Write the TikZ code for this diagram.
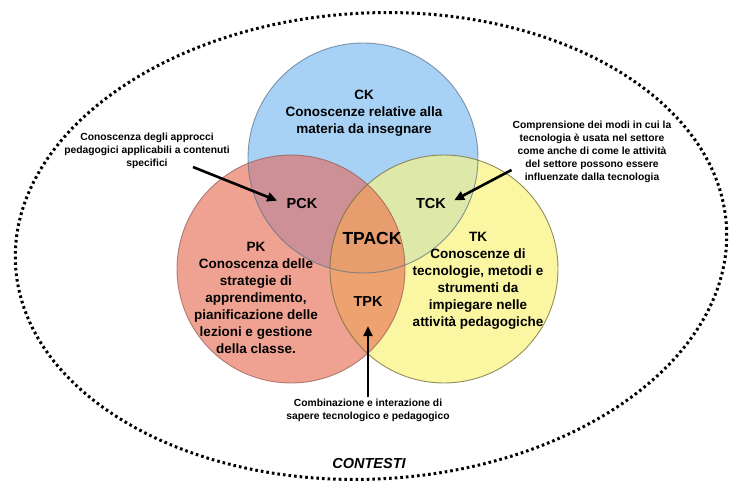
\documentclass[tikz,border=0pt]{standalone}
\usepackage{fontspec}
\setmainfont{Liberation Sans}
\usetikzlibrary{arrows.meta}

\definecolor{ckblue}{RGB}{168,210,245}
\definecolor{pkred}{RGB}{240,162,146}
\definecolor{tkyellow}{RGB}{250,246,162}
\definecolor{pckmauve}{RGB}{204,144,150}
\definecolor{tckgreen}{RGB}{222,232,168}
\definecolor{tpkorange}{RGB}{237,162,112}
\definecolor{tpackorange}{RGB}{231,157,110}
\definecolor{ckrim}{RGB}{95,118,140}
\definecolor{pkrim}{RGB}{150,96,86}
\definecolor{tkrim}{RGB}{110,105,55}

\tikzset{
    body/.style={font=\bfseries\fontsize{13.5}{17}\selectfont, align=center, inner sep=1pt},
    lbl/.style={font=\bfseries\fontsize{14.5}{17}\selectfont, inner sep=1pt},
    note/.style={font=\bfseries\fontsize{10.3}{13}\selectfont, align=center, inner sep=1pt},
    arr/.style={-{Triangle[length=10pt,width=9pt]}, line width=2.6pt},
    rim/.style={line width=0.9pt, draw opacity=0.75},
    dotline/.style={line width=3pt, dash pattern=on 2.6pt off 3pt}
}

\begin{document}
\begin{tikzpicture}[x=1pt, y=-1pt]
    \useasboundingbox (0,0) rectangle (730,483);
    \coordinate (cc) at (363,158);
    \coordinate (pc) at (291,269);
    \coordinate (tc) at (444,269);

    \draw[dotline, shift={(371,246)}, rotate=3] (0,0) ellipse[x radius=356, y radius=233];

    \fill[ckblue] (cc) circle[radius=115];
    \fill[pkred] (pc) circle[radius=114];
    \fill[tkyellow] (tc) circle[radius=114];
    \begin{scope}
        \clip (cc) circle[radius=115];
        \fill[pckmauve] (pc) circle[radius=114];
        \fill[tckgreen] (tc) circle[radius=114];
    \end{scope}
    \begin{scope}
        \clip (pc) circle[radius=114];
        \fill[tpkorange] (tc) circle[radius=114];
        \clip (cc) circle[radius=115];
        \fill[tpackorange] (tc) circle[radius=114];
    \end{scope}
    \draw[rim, ckrim] (cc) circle[radius=115];
    \draw[rim, pkrim] (pc) circle[radius=114];
    \draw[rim, tkrim] (tc) circle[radius=114];

    \node[body] (ck) at (364,113) {CK\\Conoscenze relative alla\\materia da insegnare};
    \node[body] (pk) at (256,298) {PK\\Conoscenza delle\\strategie di\\apprendimento,\\pianificazione delle\\lezioni e gestione\\della classe.};
    \node[body] (tk) at (478,281) {TK\\Conoscenze di\\tecnologie, metodi e\\strumenti da\\impiegare nelle\\attività pedagogiche};

    \node[lbl] (pck) at (302,204) {PCK};
    \node[lbl] (tck) at (431,204) {TCK};
    \node[font=\bfseries\fontsize{17.5}{20}\selectfont, inner sep=1pt] (tpack) at (372,238) {TPACK};
    \node[lbl] (tpk) at (368,302) {TPK};

    \node[note] (pcknote) at (147,151) {Conoscenza degli approcci\\pedagogici applicabili a contenuti\\specifici};
    \node[note] (tcknote) at (592,152) {Comprensione dei modi in cui la\\tecnologia è usata nel settore\\come anche di come le attività\\del settore possono essere\\influenzate dalla tecnologia};
    \node[note] (tpknote) at (368,410) {Combinazione e interazione di\\sapere tecnologico e pedagogico};
    \node[font=\bfseries\itshape\fontsize{14.5}{17}\selectfont] (contesti) at (369,463) {CONTESTI};

    \draw[arr, shorten >=9pt] ([xshift=46pt,yshift=3pt]pcknote.south) -- (pck.west);
    \draw[arr, shorten >=8pt] ([yshift=-18pt]tcknote.west) -- (tck.east);
    \draw[arr, shorten >=18pt] (tpknote.north) -- (tpk.south);
\end{tikzpicture}
\end{document}
